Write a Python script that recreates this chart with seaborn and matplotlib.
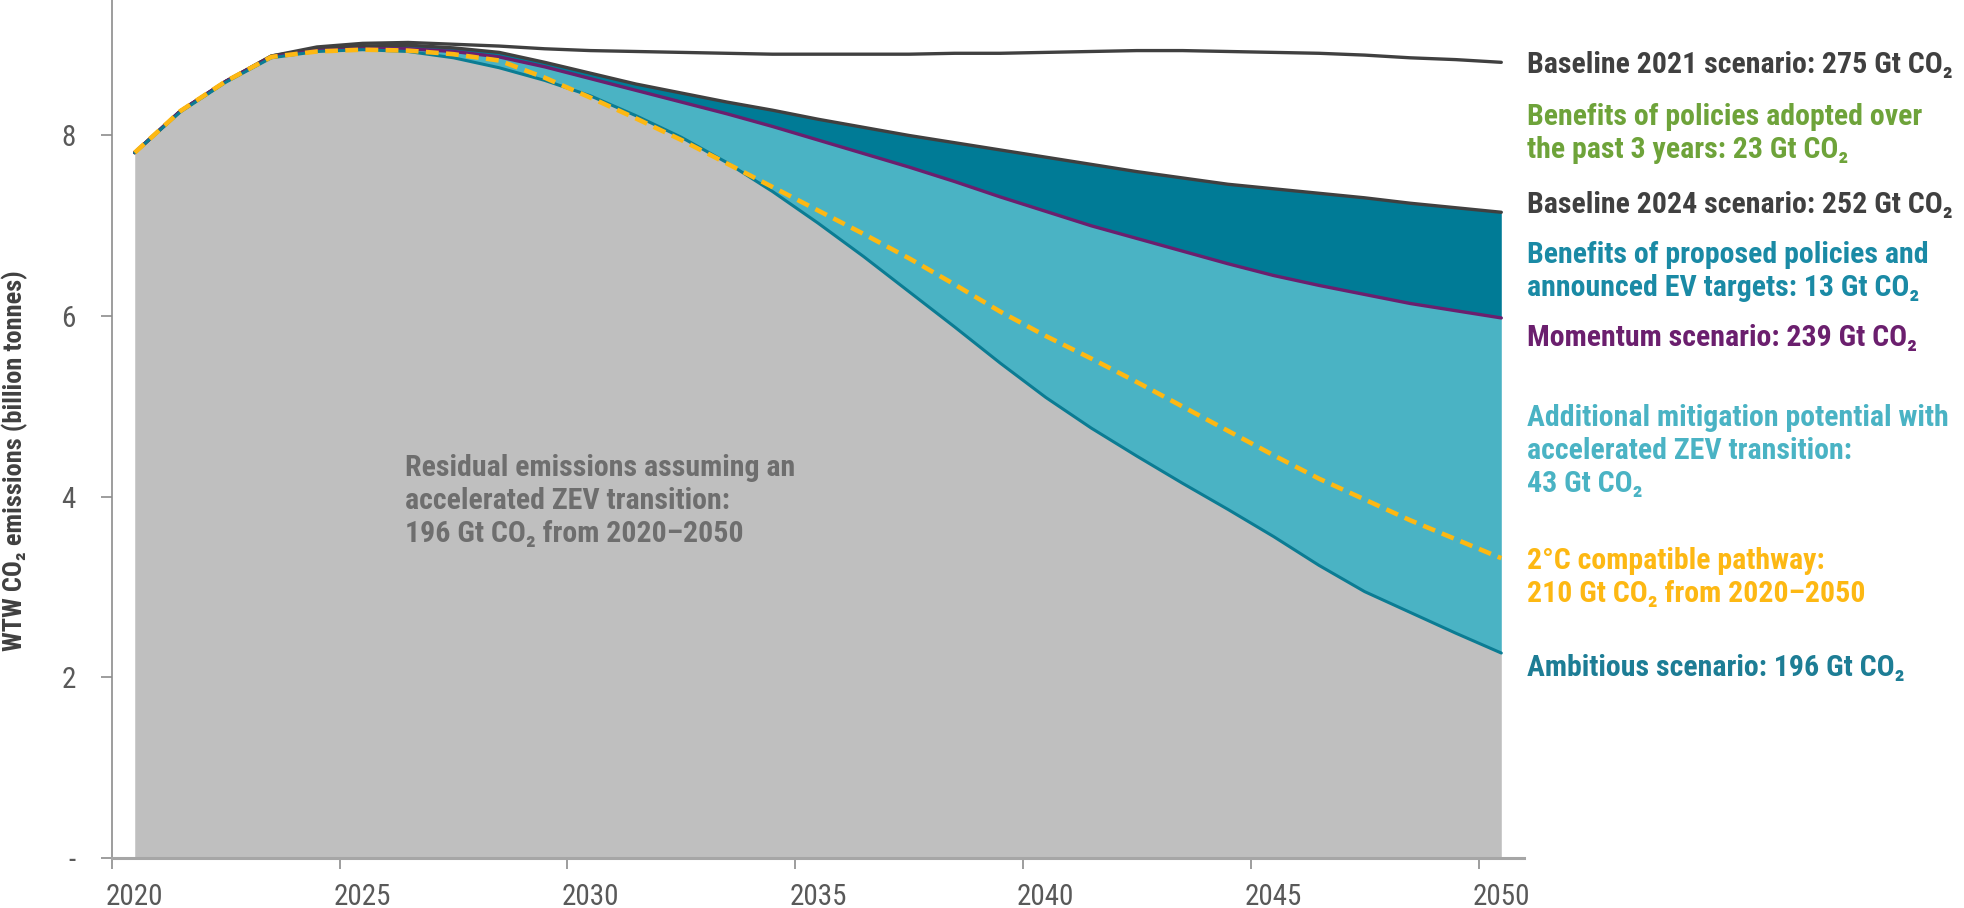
import numpy as np
import pandas as pd
import matplotlib
matplotlib.use("Agg")
import matplotlib.pyplot as plt
from matplotlib import font_manager as fm
import seaborn as sns

# ---- data (billion tonnes CO2) ----
years = list(range(2020, 2051))

baseline_2021 = [7.81, 8.27, 8.60, 8.88, 8.98, 9.02, 9.03, 9.01, 8.99, 8.96,
                 8.94, 8.93, 8.92, 8.91, 8.90, 8.90, 8.90, 8.90, 8.91, 8.91,
                 8.92, 8.93, 8.94, 8.94, 8.93, 8.92, 8.91, 8.89, 8.86, 8.84, 8.81]
baseline_2024 = [7.81, 8.27, 8.60, 8.88, 8.96, 8.99, 9.00, 8.97, 8.92, 8.81,
                 8.69, 8.57, 8.47, 8.37, 8.28, 8.18, 8.09, 8.00, 7.92, 7.84,
                 7.76, 7.68, 7.60, 7.53, 7.46, 7.41, 7.36, 7.31, 7.25, 7.20, 7.15]
momentum = [7.81, 8.27, 8.60, 8.87, 8.94, 8.96, 8.96, 8.93, 8.87, 8.76,
            8.63, 8.50, 8.37, 8.24, 8.10, 7.95, 7.80, 7.65, 7.49, 7.32,
            7.16, 7.00, 6.86, 6.72, 6.58, 6.45, 6.34, 6.24, 6.14, 6.06, 5.98]
ambitious = [7.81, 8.26, 8.59, 8.86, 8.93, 8.95, 8.93, 8.86, 8.75, 8.61,
             8.44, 8.22, 7.98, 7.70, 7.38, 7.03, 6.66, 6.27, 5.88, 5.48,
             5.10, 4.76, 4.45, 4.15, 3.86, 3.56, 3.24, 2.95, 2.72, 2.49, 2.27]
pathway_2c = [7.81, 8.27, 8.60, 8.87, 8.93, 8.95, 8.94, 8.90, 8.83, 8.64,
              8.42, 8.19, 7.95, 7.69, 7.43, 7.17, 6.91, 6.64, 6.35, 6.05,
              5.78, 5.53, 5.27, 5.00, 4.73, 4.46, 4.20, 3.97, 3.74, 3.53, 3.32]

x_labels = ["2020", "2025", "2030", "2035", "2040", "2045", "2050"]
y_labels = ["-", "2", "4", "6", "8"]

df = pd.DataFrame({
    "year": years,
    "baseline_2021": baseline_2021,
    "baseline_2024": baseline_2024,
    "momentum": momentum,
    "ambitious": ambitious,
    "pathway_2c": pathway_2c,
})

# ---- colours ----
GRAY_FILL = "#bfbfbf"
LIGHT_TEAL = "#4ab3c4"
DARK_TEAL = "#007b96"
DARK_LINE = "#404040"
PURPLE = "#6b1f6e"
AMB_LINE = "#0b7c93"
ORANGE = "#fdb813"
GREEN = "#6ea33a"

sns.set_theme(style="white")

# look for a condensed / narrow face, the original uses one
names = sorted({f.name for f in fm.fontManager.ttflist})
narrow = None
for cand in ["Roboto Condensed", "Liberation Sans Narrow", "Noto Sans Condensed",
             "Open Sans Condensed", "Noto Sans SemiCondensed"]:
    if cand in names:
        narrow = cand
        break
if narrow is None:
    for n in names:
        if "Condensed" in n or "Narrow" in n:
            narrow = n
            break
if narrow is None:
    narrow = "Roboto"
FONT = [narrow, "DejaVu Sans"]
plt.rcParams["font.family"] = FONT

fig = plt.figure(figsize=(19.64, 9.08), dpi=100)
ax = fig.add_axes([0.057, 0.055, 0.719, 0.945])

# areas
ax.fill_between(df["year"], 0, df["ambitious"], color=GRAY_FILL, lw=0)
ax.fill_between(df["year"], df["ambitious"], df["momentum"], color=LIGHT_TEAL, lw=0)
ax.fill_between(df["year"], df["momentum"], df["baseline_2024"], color=DARK_TEAL, lw=0)

# lines
sns.lineplot(data=df, x="year", y="baseline_2021", ax=ax, color=DARK_LINE, lw=2.4)
sns.lineplot(data=df, x="year", y="baseline_2024", ax=ax, color=DARK_LINE, lw=2.4)
sns.lineplot(data=df, x="year", y="momentum", ax=ax, color=PURPLE, lw=2.4)
sns.lineplot(data=df, x="year", y="ambitious", ax=ax, color=AMB_LINE, lw=2.2)
sns.lineplot(data=df, x="year", y="pathway_2c", ax=ax, color=ORANGE, lw=3.3,
             linestyle=(0, (2.8, 1.6)))

ax.set_xlim(2019.5, 2050.5)
ax.set_ylim(0, 9.5)
ax.set_xlabel("")
ax.set_ylabel("")

# x axis: ticks between categories, labels on category centres
ax.set_xticks([2019.5 + 5 * k for k in range(7)])
ax.set_xticklabels([])
ax.set_xticks([2020 + 5 * k for k in range(7)], minor=True)
ax.set_xticklabels(x_labels, minor=True)
ax.tick_params(axis="x", which="major", direction="out", length=8, width=1.2,
               color="#8c8c8c", bottom=True)
ax.tick_params(axis="x", which="minor", length=0, pad=18, labelsize=21,
               labelcolor="#595959")

ax.set_yticks([0, 2, 4, 6, 8])
ax.set_yticklabels(y_labels)
ax.tick_params(axis="y", direction="out", length=8, width=1.2, color="#8c8c8c",
               left=True, pad=18, labelsize=21, labelcolor="#595959")

for side in ["top", "right"]:
    ax.spines[side].set_visible(False)
ax.spines["left"].set_color("#8c8c8c")
ax.spines["left"].set_linewidth(1.2)
ax.spines["bottom"].set_color("#a6a6a6")
ax.spines["bottom"].set_linewidth(2.2)

fig.text(0.0075, 0.493, "WTW CO₂ emissions (billion tonnes)", rotation=90,
         ha="center", va="center", fontsize=19, fontweight="bold",
         color="#404040", family=FONT)

# right-hand labels
lab_x = 0.7775
labels = [
    (65, "Baseline 2021 scenario: 275 Gt CO₂", DARK_LINE),
    (133.5, "Benefits of policies adopted over\nthe past 3 years: 23 Gt CO₂", GREEN),
    (205, "Baseline 2024 scenario: 252 Gt CO₂", DARK_LINE),
    (271.5, "Benefits of proposed policies and\nannounced EV targets: 13 Gt CO₂", "#1a8aa5"),
    (338, "Momentum scenario: 239 Gt CO₂", PURPLE),
    (451, "Additional mitigation potential with\naccelerated ZEV transition:\n43 Gt CO₂", LIGHT_TEAL),
    (577.5, "2°C compatible pathway:\n210 Gt CO₂ from 2020–2050", ORANGE),
    (668, "Ambitious scenario: 196 Gt CO₂", "#1d7d95"),
]
for ypx, txt, col in labels:
    fig.text(lab_x, 1 - ypx / 908, txt, ha="left", va="center", fontsize=21.5,
             fontweight="bold", color=col, linespacing=1.22, family=FONT)

fig.text(0.206, 1 - 501 / 908,
         "Residual emissions assuming an\naccelerated ZEV transition:\n196 Gt CO₂ from 2020–2050",
         ha="left", va="center", fontsize=21.5, fontweight="bold", color="#6e6e6e",
         linespacing=1.22, family=FONT)

fig.savefig("out.png", dpi=100)
